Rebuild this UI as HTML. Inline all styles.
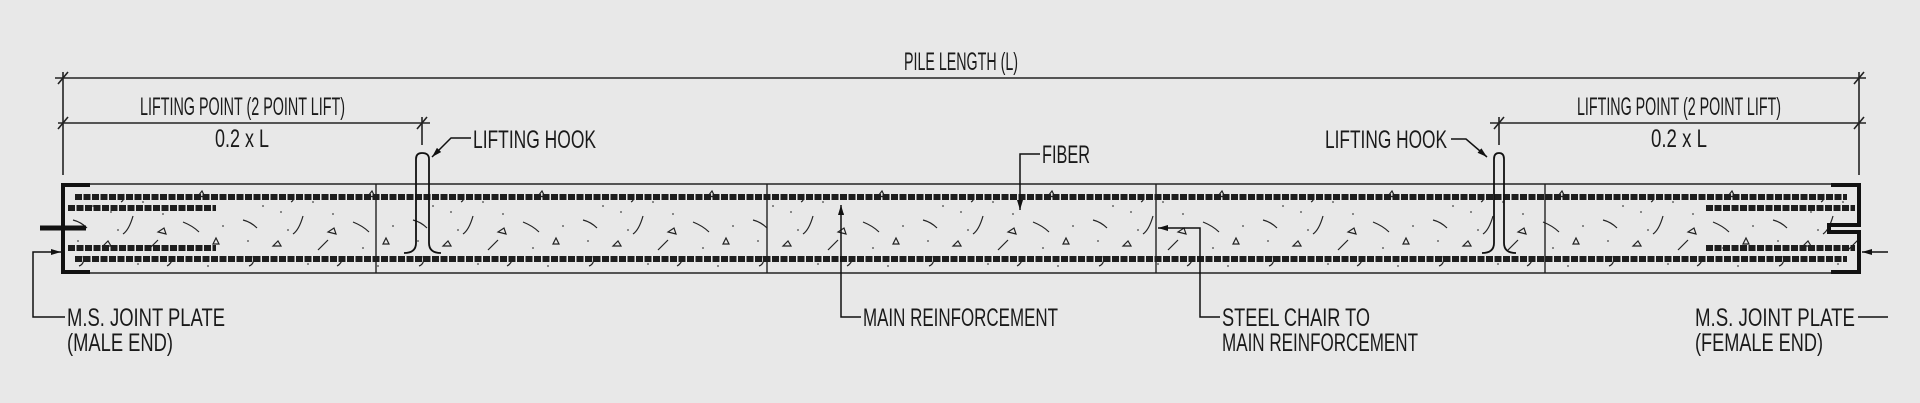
<!DOCTYPE html>
<html><head><meta charset="utf-8"><style>
html,body{margin:0;padding:0;background:#e8e8e8;}
svg{display:block}
text{font-family:"Liberation Sans",sans-serif;font-size:25px;fill:#1a1a1a;}
</style></head><body>
<svg width="1920" height="403" viewBox="0 0 1920 403" xmlns="http://www.w3.org/2000/svg">
<defs>
<pattern id="agg" x="63" y="186" width="170" height="86" patternUnits="userSpaceOnUse">
<g fill="none" stroke="#222" stroke-width="1.2">
<path d="M10 34 q8 2 14 8"/><path d="M40 60 l5-5 3 5z"/><path d="M70 30 q-4 14 -10 18"/>
<path d="M95 46 l6-4 2 6z"/><path d="M120 36 q10 4 16 10"/><path d="M150 58 l6 0 -3 -6z"/>
<path d="M20 70 q2 8 -4 10"/><path d="M110 72 q-2 6 -6 8"/><path d="M60 8 q2 6 -2 8"/>
<path d="M135 10 l4 -5 3 6z"/><path d="M85 64 q6 -6 10 -10"/>
</g>
<g fill="#444"><circle cx="30" cy="20" r="0.9"/><circle cx="55" cy="44" r="0.9"/><circle cx="80" cy="16" r="0.9"/><circle cx="100" cy="28" r="0.9"/><circle cx="130" cy="62" r="0.9"/><circle cx="160" cy="40" r="0.9"/><circle cx="15" cy="55" r="0.9"/><circle cx="75" cy="78" r="0.9"/><circle cx="145" cy="80" r="0.9"/><circle cx="48" cy="26" r="0.9"/></g>
</pattern>
<marker id="ar" markerWidth="10" markerHeight="6" refX="10" refY="3" orient="auto" markerUnits="userSpaceOnUse"><path d="M0 0 L10 3 L0 6z" fill="#111"/></marker>
</defs>
<g stroke="#222" stroke-width="1.6" fill="none">
<line x1="55" y1="78" x2="1866" y2="78"/>
<line x1="58" y1="123" x2="430" y2="123"/>
<line x1="1490" y1="123" x2="1866" y2="123"/>
<line x1="63" y1="72" x2="63" y2="175"/>
<line x1="1859" y1="72" x2="1859" y2="175"/>
<line x1="422" y1="117" x2="422" y2="145"/>
<line x1="1499" y1="117" x2="1499" y2="145"/>
<path d="M58 84 l10 -12 M58 129 l10 -12 M417 129 l10 -12 M1494 129 l10 -12 M1854 84 l10 -12 M1854 129 l10 -12"/>
</g>
<rect x="63" y="184" width="1796" height="89" fill="url(#agg)"/>
<g stroke="#222" fill="none">
<line x1="63" y1="184" x2="1859" y2="184" stroke-width="1.6"/>
<line x1="63" y1="273" x2="1859" y2="273" stroke-width="1.6"/>
<line x1="376" y1="184" x2="376" y2="273" stroke-width="1.4"/>
<line x1="767" y1="184" x2="767" y2="273" stroke-width="1.4"/>
<line x1="1156" y1="184" x2="1156" y2="273" stroke-width="1.4"/>
<line x1="1545" y1="184" x2="1545" y2="273" stroke-width="1.4"/>
</g>
<g stroke="#1e1e1e" stroke-width="6" stroke-dasharray="7 1.5" fill="none">
<line x1="75" y1="197" x2="1847" y2="197"/>
<line x1="75" y1="259" x2="1847" y2="259"/>
<line x1="68" y1="208" x2="216" y2="208"/>
<line x1="68" y1="248" x2="216" y2="248"/>
<line x1="1706" y1="208" x2="1855" y2="208"/>
<line x1="1706" y1="248" x2="1855" y2="248"/>
</g>
<g stroke="#111" fill="none">
<path d="M90 185 H63 V272 H90" stroke-width="4"/>
<line x1="40" y1="228" x2="86" y2="228" stroke-width="5"/>
<path d="M1831 185 H1859 V225 H1829 V232 H1859 V272 H1831" stroke-width="4"/>
</g>
<g stroke="#111" stroke-width="1.8" fill="none">
<path d="M404 253 q12 0 12 -10 V159 q0 -6 6 -6 q7 0 7 6 V243 q0 10 12 10"/>
<path d="M1482 253 q12 0 12 -10 V159 q0 -6 5 -6 q5 0 5 6 V243 q0 10 12 10"/>
</g>
<g stroke="#111" stroke-width="1.5" fill="none">
<path d="M471 138 H451 L432 157" marker-end="url(#ar)"/>
<path d="M1451 139 H1466 L1487 157" marker-end="url(#ar)"/>
<path d="M65 317 H33 V252 H61" marker-end="url(#ar)"/>
<path d="M1888 317 H1858"/>
<path d="M1888 252 H1862" marker-end="url(#ar)"/>
<path d="M1040 154 H1020 V210" marker-end="url(#ar)"/>
<path d="M861 317 H841 V205" marker-end="url(#ar)"/>
<path d="M1220 317 H1200 V228 H1158" marker-end="url(#ar)"/>
</g>
<text x="904" y="70" textLength="114" lengthAdjust="spacingAndGlyphs">PILE LENGTH (L)</text>
<text x="140" y="115" textLength="205" lengthAdjust="spacingAndGlyphs">LIFTING POINT (2 POINT LIFT)</text>
<text x="215" y="147" textLength="54" lengthAdjust="spacingAndGlyphs">0.2 x L</text>
<text x="473" y="148" textLength="123" lengthAdjust="spacingAndGlyphs">LIFTING HOOK</text>
<text x="1325" y="148" textLength="122" lengthAdjust="spacingAndGlyphs">LIFTING HOOK</text>
<text x="1577" y="115" textLength="204" lengthAdjust="spacingAndGlyphs">LIFTING POINT (2 POINT LIFT)</text>
<text x="1651" y="147" textLength="56" lengthAdjust="spacingAndGlyphs">0.2 x L</text>
<text x="1042" y="163" textLength="48" lengthAdjust="spacingAndGlyphs">FIBER</text>
<text x="863" y="326" textLength="195" lengthAdjust="spacingAndGlyphs">MAIN REINFORCEMENT</text>
<text x="1222" y="326" textLength="148" lengthAdjust="spacingAndGlyphs">STEEL CHAIR TO</text>
<text x="1222" y="351" textLength="196" lengthAdjust="spacingAndGlyphs">MAIN REINFORCEMENT</text>
<text x="67" y="326" textLength="158" lengthAdjust="spacingAndGlyphs">M.S. JOINT PLATE</text>
<text x="67" y="351" textLength="106" lengthAdjust="spacingAndGlyphs">(MALE END)</text>
<text x="1695" y="326" textLength="160" lengthAdjust="spacingAndGlyphs">M.S. JOINT PLATE</text>
<text x="1695" y="351" textLength="128" lengthAdjust="spacingAndGlyphs">(FEMALE END)</text>
</svg>
</body></html>
